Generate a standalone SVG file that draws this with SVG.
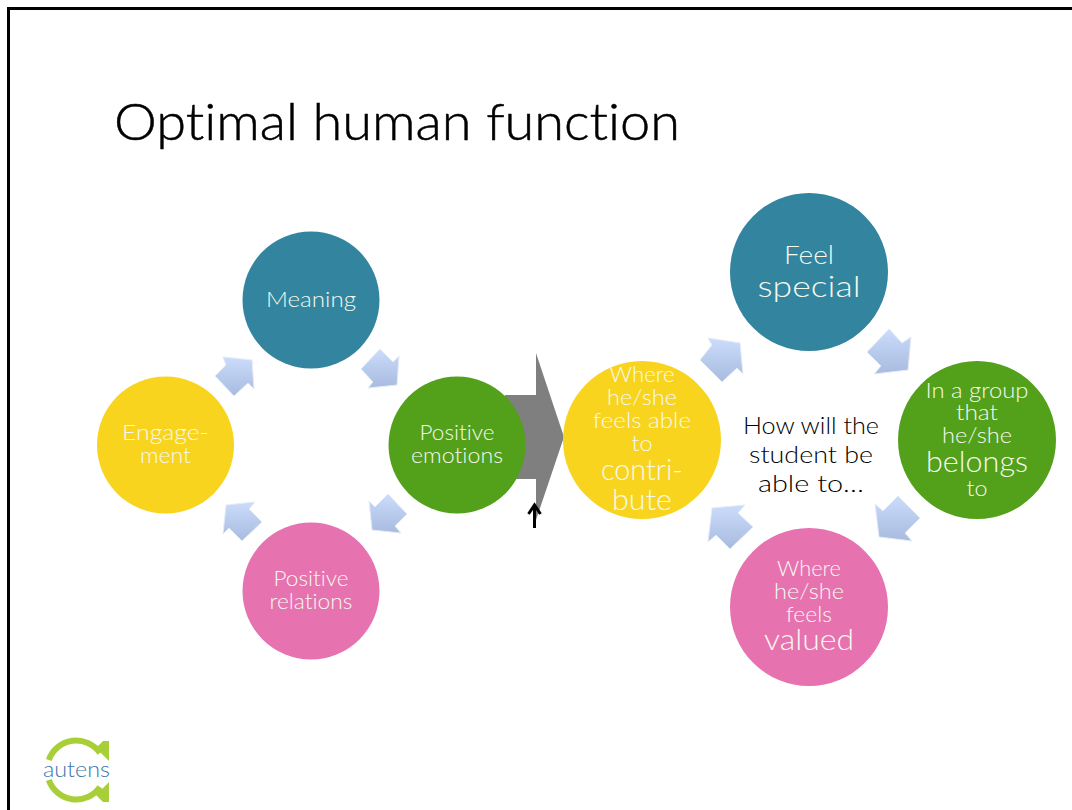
<svg xmlns="http://www.w3.org/2000/svg" width="1072" height="810" viewBox="0 0 1072 810">
<style>
text{font-family:"Lato","Open Sans","Liberation Sans",sans-serif;font-weight:300;text-anchor:middle;font-variant-ligatures:none}
.t{fill:#f5f9ee;font-size:22px}
.b{fill:#f5f9ee;font-size:30px}
.k{fill:#000;font-size:24px}
.a{fill:url(#g);stroke:#e4ebf7;stroke-width:1}
</style>
<defs>
<linearGradient id="g" x1="0" y1="0" x2="0" y2="1"><stop offset="0" stop-color="#cbdcfb"/><stop offset="1" stop-color="#a8bbdf"/></linearGradient>
</defs>
<rect width="1072" height="810" fill="#fff"/>
<path id="frame" d="M8.500 810V8.500H1072" fill="none" stroke="#000" stroke-width="3"/>
<text id="title" x="114" y="140" style="text-anchor:start;font-size:51px;fill:#000" stroke="#000" stroke-width="0.500" textLength="566" lengthAdjust="spacingAndGlyphs">Optimal human function</text>
<g id="connectors">
<polygon id="big-arrow" fill="#7f7f7f" points="505,395 536,395 536,353 564,437 536,520 536,479 505,479"/>
<path id="small-arrow" d="M534.500 528V505M528.500 514L534.500 505L540.500 514" fill="none" stroke="#000" stroke-width="3"/>
<polygon class="a" points="215,376 226,365 223,357 252,360 254,389 248,383 234,396"/>
<polygon class="a" points="361,369 380,349 393,362 399,356 397,385 368,388 373,382"/>
<polygon class="a" points="388,494 407,514 395,526 401,533 372,530 369,501 375,507"/>
<polygon class="a" points="262,522 242,541 229,528 223,534 226,505 255,502 249,509"/>
<polygon class="a" points="700,360 712,345 708,338 740,343 743,374 737,368 722,382"/>
<polygon class="a" points="867,352 889,329 902,343 911,337 908,370 874,374 881,366"/>
<polygon class="a" points="898,496 920,518 905,533 912,541 879,537 875,504 883,511"/>
<polygon class="a" points="753,527 730,549 716,535 708,542 712,508 745,505 738,513"/>
</g>
<g id="meaning"><circle cx="311" cy="300" r="68.500" fill="#32849f"/><text class="t" x="311" y="307" textLength="90" lengthAdjust="spacingAndGlyphs">Meaning</text></g>
<g id="engagement"><circle cx="165.500" cy="445" r="68.500" fill="#f9d41f"/><text class="t" x="165.500" y="440" textLength="87" lengthAdjust="spacingAndGlyphs">Engage-</text><text class="t" x="165.500" y="463" textLength="51" lengthAdjust="spacingAndGlyphs">ment</text></g>
<g id="positive-emotions"><circle cx="457" cy="445" r="68.500" fill="#53a01b"/><text class="t" x="457" y="440" textLength="75" lengthAdjust="spacingAndGlyphs">Positive</text><text class="t" x="457" y="463" textLength="92" lengthAdjust="spacingAndGlyphs">emotions</text></g>
<g id="positive-relations"><circle cx="311" cy="591" r="68.500" fill="#e772b0"/><text class="t" x="311" y="586" textLength="75" lengthAdjust="spacingAndGlyphs">Positive</text><text class="t" x="311" y="609" textLength="83" lengthAdjust="spacingAndGlyphs">relations</text></g>
<g id="feel-special"><circle cx="809" cy="272" r="79" fill="#32849f"/><text class="t" style="font-size:25px" x="809" y="264" textLength="50" lengthAdjust="spacingAndGlyphs">Feel</text><text class="b" x="809" y="297" textLength="103" lengthAdjust="spacingAndGlyphs">special</text></g>
<g id="belongs"><circle cx="977" cy="440" r="79" fill="#53a01b"/><text class="t" x="977" y="398" textLength="103" lengthAdjust="spacingAndGlyphs">In a group</text><text class="t" x="977" y="420" textLength="42" lengthAdjust="spacingAndGlyphs">that</text><text class="t" x="977" y="443" textLength="70" lengthAdjust="spacingAndGlyphs">he/she</text><text class="b" x="977" y="472" textLength="102" lengthAdjust="spacingAndGlyphs">belongs</text><text class="t" x="977" y="496" textLength="21" lengthAdjust="spacingAndGlyphs">to</text></g>
<g id="valued"><circle cx="809" cy="607" r="79" fill="#e772b0"/><text class="t" x="809" y="576" textLength="64" lengthAdjust="spacingAndGlyphs">Where</text><text class="t" x="809" y="599" textLength="70" lengthAdjust="spacingAndGlyphs">he/she</text><text class="t" x="809" y="622" textLength="46" lengthAdjust="spacingAndGlyphs">feels</text><text class="b" x="809" y="650" textLength="90" lengthAdjust="spacingAndGlyphs">valued</text></g>
<g id="contribute"><circle cx="642" cy="440" r="79" fill="#f9d41f"/><text class="t" x="642" y="382" textLength="65" lengthAdjust="spacingAndGlyphs">Where</text><text class="t" x="642" y="405" textLength="70" lengthAdjust="spacingAndGlyphs">he/she</text><text class="t" x="642" y="428" textLength="98" lengthAdjust="spacingAndGlyphs">feels able</text><text class="t" x="642" y="451" textLength="21" lengthAdjust="spacingAndGlyphs">to</text><text class="b" x="642" y="480" textLength="82" lengthAdjust="spacingAndGlyphs">contri-</text><text class="b" x="642" y="510" textLength="60" lengthAdjust="spacingAndGlyphs">bute</text></g>
<g id="question"><text class="k" x="811" y="434" textLength="136" lengthAdjust="spacingAndGlyphs">How will the</text><text class="k" x="811" y="463" textLength="124" lengthAdjust="spacingAndGlyphs">student be</text><text class="k" x="811" y="492" textLength="106" lengthAdjust="spacingAndGlyphs">able to…</text></g>
<g id="logo">
<path d="M48.800 760A29 29 0 0 1 100 753M48.800 780A29 29 0 0 0 100 787" fill="none" stroke="#a8cf38" stroke-width="6"/>
<path d="M103 741H109V761L96 748ZM103 802H109V782L96 795Z" fill="#a8cf38"/>
<text x="76.500" y="777" style="font-size:22px;fill:#3d76ac" textLength="67" lengthAdjust="spacingAndGlyphs">autens</text>
</g>
</svg>
